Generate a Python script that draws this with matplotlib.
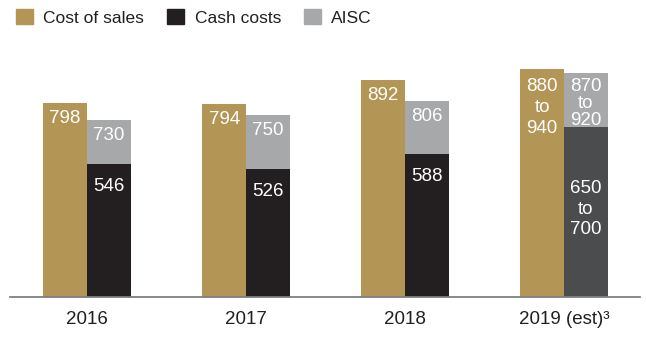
#!/usr/bin/env python3
"""Unit cost comparison: cost of sales, cash costs and AISC per year."""

import matplotlib.pyplot as plt
import numpy as np
from matplotlib.patches import Patch

plt.rcParams["font.family"] = ["Liberation Sans", "DejaVu Sans"]

GOLD = "#b39656"
BLACK = "#231f20"
GREY = "#a7a8aa"
DARK = "#4b4c4e"
INK = "#231f20"
AXIS = "#7f7f7f"

years = ["2016", "2017", "2018", "2019 (est)\u00b3"]
cost_of_sales = [798, 794, 892, 940]
cash_costs = [546, 526, 588, 700]
aisc = [730, 750, 806, 920]
cos_labels = ["798", "794", "892", "880\nto\n940"]
cash_labels = ["546", "526", "588", "650\nto\n700"]
aisc_labels = ["730", "750", "806", "870\nto\n920"]

fig = plt.figure(figsize=(6.46, 3.41), dpi=100)
ax = fig.add_axes([10 / 646, 44 / 341, 630 / 646, 260 / 341])

x = np.arange(len(years))
width = 0.274
cash_colors = [BLACK, BLACK, BLACK, DARK]

ax.bar(x - width / 2, cost_of_sales, width, color=GOLD, edgecolor="none")
ax.bar(x + width / 2, aisc, width, color=GREY, edgecolor="none")
ax.bar(x + width / 2, cash_costs, width, color=cash_colors, edgecolor="none")

label_kw = dict(textcoords="offset points", ha="center", va="top",
                fontsize=13.5, color="white")
for i in range(len(years)):
    multi = "\n" in cos_labels[i]
    ax.annotate(cos_labels[i], xy=(x[i] - width / 2, cost_of_sales[i]),
                xytext=(0, -7 if multi else -5), linespacing=1.3, **label_kw)
    # the estimate range in the grey segment has little room, pack it tighter
    ax.annotate(aisc_labels[i], xy=(x[i] + width / 2, aisc[i]),
                xytext=(0, -3 if multi else -5), linespacing=1.02, **label_kw)
    ax.annotate(cash_labels[i], xy=(x[i] + width / 2, cash_costs[i]),
                xytext=(0, -38 if multi else -10), linespacing=1.3, **label_kw)

ax.set_xlim(-0.484, 3.478)
ax.set_ylim(0, 1070)
for side in ["top", "right", "left"]:
    ax.spines[side].set_visible(False)
ax.spines["bottom"].set_color(AXIS)
ax.spines["bottom"].set_linewidth(1.3)
ax.set_yticks([])
ax.set_xticks(x)
ax.set_xticklabels(years, fontsize=13.5, color=INK)
ax.tick_params(axis="x", length=0, pad=10)

handles = [Patch(color=GOLD), Patch(color=BLACK), Patch(color=GREY)]
fig.legend(handles, ["Cost of sales", "Cash costs", "AISC"],
           loc="upper left", bbox_to_anchor=(0.0, 1.02), ncol=3, frameon=False,
           fontsize=12.5, labelcolor=INK, handlelength=1.0, handleheight=1.0,
           handletextpad=0.6, columnspacing=1.3)

fig.savefig("out.png", dpi=100)
